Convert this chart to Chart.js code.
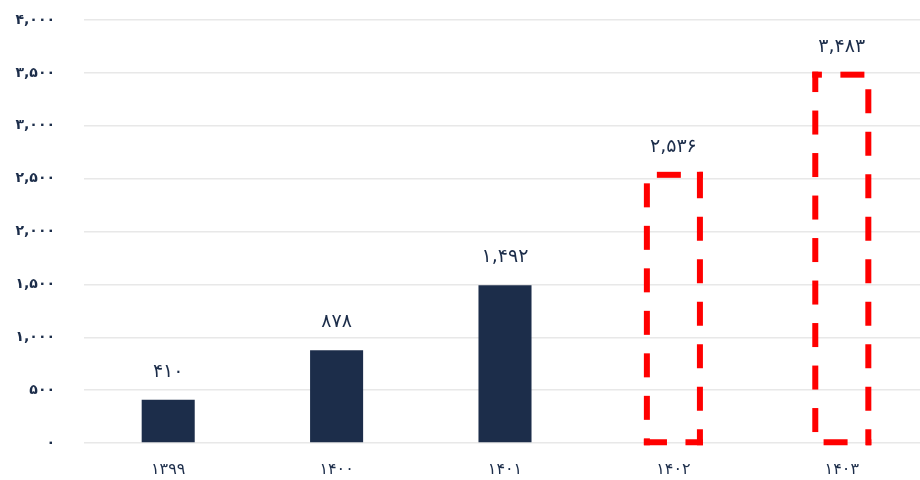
<!DOCTYPE html>
<html>
<head>
<meta charset="utf-8">
<script src="https://cdn.jsdelivr.net/npm/chart.js@4"></script>
<style>
    html, body { margin: 0; padding: 0; background: #fff; overflow: hidden; }
    #wrap { width: 926px; height: 480px; position: relative; }
</style>
</head>
<body>
<div id="wrap"><canvas id="chart"></canvas></div>
<script>
const years = ['۱۳۹۹', '۱۴۰۰', '۱۴۰۱', '۱۴۰۲', '۱۴۰۳'];
const actualValues = [410, 878, 1492, null, null];
const forecastValues = [null, null, null, 2536, 3483];

const navy = '#1c2d4a';
const fontFamily = '"DejaVu Sans", sans-serif';

function toPersian(n) {
    const digits = '۰۱۲۳۴۵۶۷۸۹';
    return n.toLocaleString('en-US').replace(/[0-9]/g, d => digits[d]);
}

// draws a dashed rectangle outline piece by piece,
// starting at the bottom right corner and going up
function dashedRect(ctx, left, top, right, bottom, dash, gap, phase, w) {
    const pts = [[right, bottom], [right, top], [left, top], [left, bottom], [right, bottom]];
    const period = dash + gap;
    let pos = phase;
    const h = w / 2;
    for (let k = 0; k < 4; k++) {
        const [x1, y1] = pts[k];
        const [x2, y2] = pts[k + 1];
        const len = Math.hypot(x2 - x1, y2 - y1);
        const ux = (x2 - x1) / len, uy = (y2 - y1) / len;
        let t = 0;
        while (t < len) {
            const p = ((pos + t) % period + period) % period;
            if (p < dash) {
                const s = t;
                const e = Math.min(len, t + (dash - p));
                const s2 = s === 0 ? -h : s;
                const e2 = e === len ? len + h : e;
                const ax = x1 + ux * s2, ay = y1 + uy * s2;
                const bx = x1 + ux * e2, by = y1 + uy * e2;
                ctx.fillRect(Math.min(ax, bx) - (uy !== 0 ? h : 0),
                             Math.min(ay, by) - (ux !== 0 ? h : 0),
                             Math.abs(bx - ax) + (uy !== 0 ? w : 0),
                             Math.abs(by - ay) + (ux !== 0 ? w : 0));
                t = e;
            } else {
                t = Math.min(len, t + (period - p));
            }
        }
        pos += len;
    }
}

// dashed outline for the forecast bars
const dashedBars = {
    id: 'dashedBars',
    afterDatasetsDraw(chart) {
        const ctx = chart.ctx;
        const meta = chart.getDatasetMeta(1);
        ctx.save();
        ctx.fillStyle = '#ff0000';
        meta.data.forEach((bar, i) => {
            if (forecastValues[i] == null) return;
            const left = bar.x - bar.width / 2;
            const right = bar.x + bar.width / 2;
            dashedRect(ctx, left, bar.y, right, bar.base, 24, 18.5, 11, 6);
        });
        ctx.restore();
    }
};

// value labels above the bars
const valueLabels = {
    id: 'valueLabels',
    afterDatasetsDraw(chart) {
        const ctx = chart.ctx;
        ctx.save();
        ctx.fillStyle = navy;
        ctx.font = '19px ' + fontFamily;
        ctx.textAlign = 'center';
        ctx.textBaseline = 'middle';
        chart.data.datasets.forEach((ds, di) => {
            chart.getDatasetMeta(di).data.forEach((bar, i) => {
                const v = ds.data[i];
                if (v == null) return;
                ctx.fillText(toPersian(v), bar.x, bar.y - 28);
            });
        });
        ctx.restore();
    }
};

new Chart(document.getElementById('chart'), {
    type: 'bar',
    data: {
        labels: years,
        datasets: [{
            data: actualValues,
            backgroundColor: navy,
            borderWidth: 0,
            barPercentage: 0.315,
            categoryPercentage: 1
        }, {
            data: forecastValues,
            backgroundColor: 'rgba(0,0,0,0)',
            borderWidth: 0,
            barPercentage: 0.315,
            categoryPercentage: 1
        }]
    },
    options: {
        responsive: true,
        maintainAspectRatio: false,
        animation: false,
        layout: { padding: 0 },
        plugins: {
            legend: { display: false },
            tooltip: { enabled: false }
        },
        scales: {
            x: {
                stacked: true,
                grid: { display: false, drawTicks: false },
                border: { display: false },
                ticks: {
                    color: navy,
                    padding: 17,
                    font: { family: fontFamily, size: 16 }
                },
                afterFit(scale) { scale.height = 37; }
            },
            y: {
                min: 0,
                max: 4000,
                grid: { color: '#e8e8e8', lineWidth: 1.5, drawTicks: false },
                border: { display: false },
                ticks: {
                    stepSize: 500,
                    color: navy,
                    padding: 29,
                    font: { family: fontFamily, size: 14, weight: 'bold' },
                    callback: v => toPersian(v)
                },
                afterFit(scale) {
                    scale.width = 84;
                    scale.paddingTop = 20;
                    scale.paddingBottom = 0;
                }
            }
        }
    },
    plugins: [dashedBars, valueLabels]
});
</script>
</body>
</html>
